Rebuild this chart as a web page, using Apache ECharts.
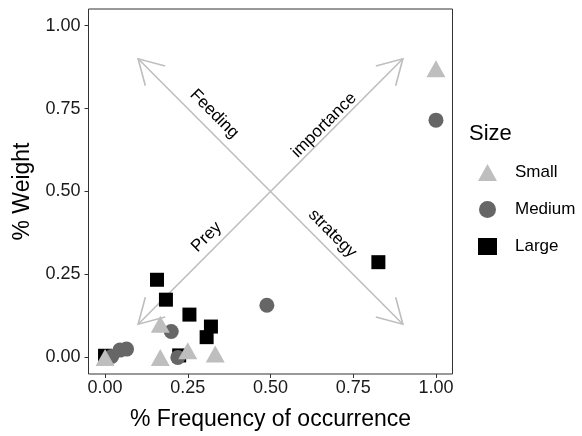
<!DOCTYPE html>
<html>
<head>
<meta charset="utf-8">
<script src="https://cdn.jsdelivr.net/npm/echarts@6/dist/echarts.min.js"></script>
<style>
  html, body { margin: 0; background: #fff; }
  #chart { width: 582px; height: 436px; }
</style>
</head>
<body>
<div id="chart"></div>
<script>
// points: [frequency, weight]
const small = [[0, 0], [0.167, 0.1], [0.167, 0], [0.25, 0.02], [0.333, 0.01], [1, 0.87]]
const medium = [[0.02, 0.003], [0.045, 0.022], [0.065, 0.025], [0.2, 0.078], [0.22, 0], [0.489, 0.157], [1, 0.715]]
const large = [[0, 0.005], [0.157, 0.234], [0.184, 0.174], [0.255, 0.129], [0.307, 0.061], [0.32, 0.093], [0.224, 0.006], [0.826, 0.287]]
const ticks = [0, 0.25, 0.5, 0.75, 1]

// the two double arrows and their words
const arrows = [[0.1, 0.1, 0.9, 0.9], [0.1, 0.9, 0.9, 0.1]]
const arrowLabels = ['Feeding', 'importance', 'Prey', 'strategy']
const labelAt = [[0.33, 0.734], [0.662, 0.7], [0.307, 0.363], [0.687, 0.373]]
const labelAngle = [-45, 45, 45, -45]

const GREY = '#bebebe'

function arrowHead(tip, from) {
  const a = Math.atan2(from[1] - tip[1], from[0] - tip[0])
  const len = 28
  const spread = Math.PI / 6
  return {
    type: 'polyline',
    shape: {
      points: [
        [tip[0] + len * Math.cos(a + spread), tip[1] + len * Math.sin(a + spread)],
        tip,
        [tip[0] + len * Math.cos(a - spread), tip[1] + len * Math.sin(a - spread)],
      ],
    },
    style: { stroke: GREY, lineWidth: 1.6, fill: null },
  }
}

function renderArrow(params, api) {
  const p1 = api.coord([api.value(0), api.value(1)])
  const p2 = api.coord([api.value(2), api.value(3)])
  return {
    type: 'group',
    children: [
      { type: 'line', shape: { x1: p1[0], y1: p1[1], x2: p2[0], y2: p2[1] }, style: { stroke: GREY, lineWidth: 1.6 } },
      arrowHead(p1, p2),
      arrowHead(p2, p1),
    ],
  }
}

function renderLabel(params, api) {
  const p = api.coord([api.value(0), api.value(1)])
  return {
    type: 'text',
    x: p[0],
    y: p[1],
    rotation: (labelAngle[params.dataIndex] * Math.PI) / 180,
    style: {
      text: arrowLabels[params.dataIndex],
      fontSize: 17,
      fill: '#000',
      align: 'center',
      verticalAlign: 'middle',
      fontFamily: 'Liberation Sans',
    },
  }
}

const chart = echarts.init(document.getElementById('chart'))

chart.setOption({
  animation: false,
  textStyle: { fontFamily: 'Liberation Sans' },
  title: {
    text: 'Size',
    left: 469,
    top: 123,
    padding: 0,
    textStyle: { fontSize: 22, fontWeight: 'normal', color: '#000' },
  },
  legend: {
    orient: 'vertical',
    left: 473,
    top: 159,
    itemWidth: 19,
    itemHeight: 17,
    itemGap: 20,
    data: ['Small', 'Medium', 'Large'],
    textStyle: { fontSize: 17, color: '#000', padding: [0, 0, 0, 13] },
  },
  grid: {
    left: 88.5,
    top: 9,
    width: 364,
    height: 365,
    show: true,
    borderColor: '#333',
    borderWidth: 1,
  },
  xAxis: {
    type: 'value',
    min: -0.05,
    max: 1.05,
    axisLine: { show: false, onZero: false },
    splitLine: { show: false },
    axisTick: { show: true, customValues: ticks, length: 4, lineStyle: { color: '#333' } },
    axisLabel: { customValues: ticks, formatter: (v) => v.toFixed(2), fontSize: 18, color: '#1a1a1a', margin: 5 },
    name: '% Frequency of occurrence',
    nameLocation: 'middle',
    nameGap: 34,
    nameTextStyle: { fontSize: 23, color: '#000' },
  },
  yAxis: {
    type: 'value',
    min: -0.05,
    max: 1.05,
    axisLine: { show: false, onZero: false },
    splitLine: { show: false },
    axisTick: { show: true, customValues: ticks, length: 4, lineStyle: { color: '#333' } },
    axisLabel: { customValues: ticks, formatter: (v) => v.toFixed(2), fontSize: 18, color: '#1a1a1a', margin: 8 },
    name: '% Weight',
    nameLocation: 'middle',
    nameGap: 53,
    nameTextStyle: { fontSize: 23, color: '#000' },
  },
  series: [
    {
      type: 'custom',
      name: 'arrows',
      renderItem: renderArrow,
      data: arrows,
      encode: { x: [0, 2], y: [1, 3] },
      silent: true,
      z: 1,
    },
    {
      type: 'scatter',
      name: 'Large',
      symbol: 'rect',
      symbolSize: 14,
      itemStyle: { color: '#000', opacity: 1 },
      data: large,
      z: 2,
    },
    {
      type: 'scatter',
      name: 'Medium',
      symbol: 'circle',
      symbolSize: 15,
      itemStyle: { color: '#666', opacity: 1 },
      data: medium,
      z: 3,
    },
    {
      type: 'scatter',
      name: 'Small',
      symbol: 'triangle',
      symbolSize: [19, 17],
      itemStyle: { color: GREY, opacity: 1 },
      data: small,
      z: 4,
    },
    {
      type: 'custom',
      name: 'labels',
      renderItem: renderLabel,
      data: labelAt,
      silent: true,
      z: 5,
    },
  ],
})
</script>
</body>
</html>
